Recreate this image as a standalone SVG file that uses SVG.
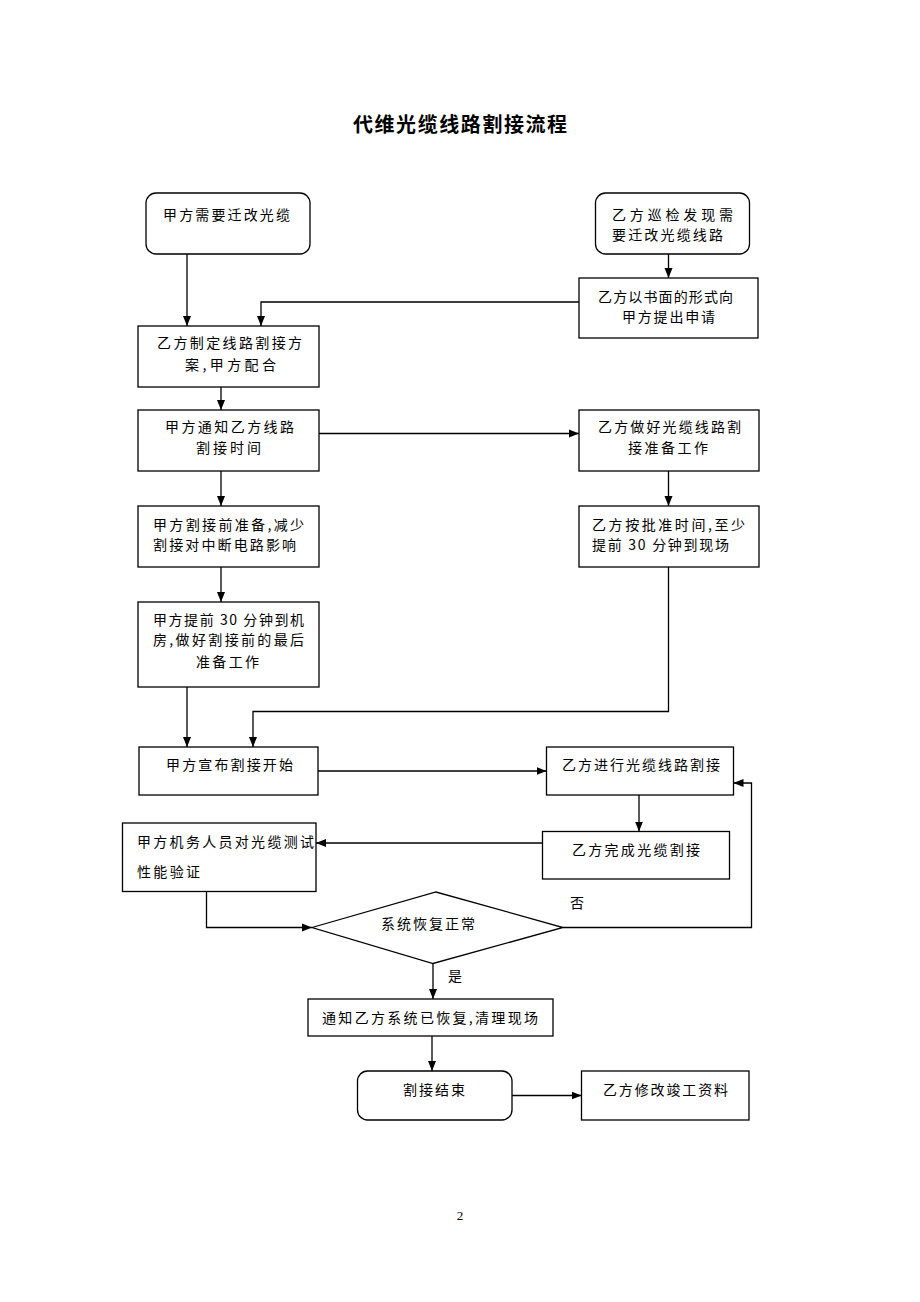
<svg xmlns="http://www.w3.org/2000/svg" width="920" height="1302" viewBox="0 0 920 1302">
<style>
.bx{fill:#fff;stroke:#000;stroke-width:1.3}
.t{font-family:"Noto Sans CJK SC","Noto Sans CJK JP",sans-serif;font-size:14px;fill:#000}
.ti{font-family:"Noto Sans CJK SC",sans-serif;font-size:20px;font-weight:bold;fill:#000}
.pg{font-family:"Liberation Serif",serif;font-size:13px;fill:#000}
.c{fill:none;stroke:#000;stroke-width:1.3}
</style>
<defs>
<marker id="ah" markerUnits="userSpaceOnUse" markerWidth="10" markerHeight="10" viewBox="0 0 10 10" refX="10" refY="5" orient="auto">
<path d="M0,1 L10,5 L0,9 Z" fill="#000"/>
</marker>
</defs>
<rect width="920" height="1302" fill="#fff"/>
<text class="ti" x="353" y="132" textLength="214">代维光缆线路割接流程</text>

<g id="connectors">
<path class="c" d="M187,254 V326" marker-end="url(#ah)"/>
<path class="c" d="M668.5,254 V278" marker-end="url(#ah)"/>
<path class="c" d="M579,302 H261 V326" marker-end="url(#ah)"/>
<path class="c" d="M221,387 V410" marker-end="url(#ah)"/>
<path class="c" d="M319,433.5 H579" marker-end="url(#ah)"/>
<path class="c" d="M221,471 V506" marker-end="url(#ah)"/>
<path class="c" d="M668.5,471 V506" marker-end="url(#ah)"/>
<path class="c" d="M221,567 V602" marker-end="url(#ah)"/>
<path class="c" d="M668.5,567 V711.5 H253 V747" marker-end="url(#ah)"/>
<path class="c" d="M187,687 V747" marker-end="url(#ah)"/>
<path class="c" d="M318,771 H546.5" marker-end="url(#ah)"/>
<path class="c" d="M639,795 V831.5" marker-end="url(#ah)"/>
<path class="c" d="M542.5,843 H316" marker-end="url(#ah)"/>
<path class="c" d="M206.5,891.5 V927.5 H312" marker-end="url(#ah)"/>
<path class="c" d="M563,927.5 H751.5 V783 H733.5" marker-end="url(#ah)"/>
<path class="c" d="M433,963.5 V999" marker-end="url(#ah)"/>
<path class="c" d="M432,1036 V1071" marker-end="url(#ah)"/>
<path class="c" d="M512,1095.5 H581.5" marker-end="url(#ah)"/>
<text class="t" x="570" y="908" textLength="15">否</text>
<text class="t" x="448" y="981" textLength="15">是</text>
</g>

<g id="n1"><rect class="bx" x="146" y="193" width="164" height="61" rx="10"/>
<text class="t" x="163" y="220" textLength="127">甲方需要迁改光缆</text></g>
<g id="n2"><rect class="bx" x="595.5" y="193" width="154" height="61" rx="10"/>
<text class="t" x="612" y="220" textLength="121">乙方巡检发现需</text>
<text class="t" x="612" y="240" textLength="111">要迁改光缆线路</text></g>
<g id="n3"><rect class="bx" x="579" y="278" width="179" height="60"/>
<text class="t" x="598" y="302" textLength="135">乙方以书面的形式向</text>
<text class="t" x="622" y="322" textLength="93">甲方提出申请</text></g>
<g id="n4"><rect class="bx" x="138" y="326" width="181" height="61"/>
<text class="t" x="157" y="348" textLength="145">乙方制定线路割接方</text>
<text class="t" x="185" y="370" textLength="91">案,甲方配合</text></g>
<g id="n5"><rect class="bx" x="138" y="410" width="181" height="61"/>
<text class="t" x="165" y="432" textLength="129">甲方通知乙方线路</text>
<text class="t" x="196" y="453" textLength="65">割接时间</text></g>
<g id="n6"><rect class="bx" x="579" y="410" width="180" height="61"/>
<text class="t" x="598" y="432" textLength="143">乙方做好光缆线路割</text>
<text class="t" x="628" y="453" textLength="80">接准备工作</text></g>
<g id="n7"><rect class="bx" x="138" y="506" width="181" height="61"/>
<text class="t" x="153" y="530" textLength="151">甲方割接前准备,减少</text>
<text class="t" x="153" y="550" textLength="143">割接对中断电路影响</text></g>
<g id="n8"><rect class="bx" x="579" y="506" width="180" height="61"/>
<text class="t" x="592" y="530" textLength="153">乙方按批准时间,至少</text>
<text class="t" x="592" y="550" textLength="137">提前 30 分钟到现场</text></g>
<g id="n9"><rect class="bx" x="138" y="602" width="181" height="85"/>
<text class="t" x="153" y="625" textLength="151">甲方提前 30 分钟到机</text>
<text class="t" x="153" y="645" textLength="151">房,做好割接前的最后</text>
<text class="t" x="196" y="667" textLength="63">准备工作</text></g>
<g id="n10"><rect class="bx" x="139" y="747" width="179" height="48"/>
<text class="t" x="166" y="770" textLength="127">甲方宣布割接开始</text></g>
<g id="n11"><rect class="bx" x="546.5" y="747" width="187" height="48"/>
<text class="t" x="562" y="770" textLength="158">乙方进行光缆线路割接</text></g>
<g id="n12"><rect class="bx" x="542.5" y="831.5" width="187" height="47.5"/>
<text class="t" x="572" y="855" textLength="128">乙方完成光缆割接</text></g>
<g id="n13"><rect class="bx" x="122.5" y="823" width="193.5" height="68.5"/>
<text class="t" x="137" y="847" textLength="177">甲方机务人员对光缆测试</text>
<text class="t" x="137" y="877" textLength="63">性能验证</text></g>
<g id="n14"><polygon class="bx" points="312,927.5 436,892 563,927.5 433,963.5"/>
<text class="t" x="381" y="929" textLength="94">系统恢复正常</text></g>
<g id="n15"><rect class="bx" x="308" y="999" width="245" height="37"/>
<text class="t" x="322" y="1023" textLength="216">通知乙方系统已恢复,清理现场</text></g>
<g id="n16"><rect class="bx" x="357.5" y="1071" width="154.5" height="49" rx="10"/>
<text class="t" x="403" y="1095" textLength="62">割接结束</text></g>
<g id="n17"><rect class="bx" x="581.5" y="1071" width="167.5" height="49"/>
<text class="t" x="603" y="1095" textLength="125">乙方修改竣工资料</text></g>

<text class="pg" x="460" y="1220" text-anchor="middle">2</text>
</svg>
